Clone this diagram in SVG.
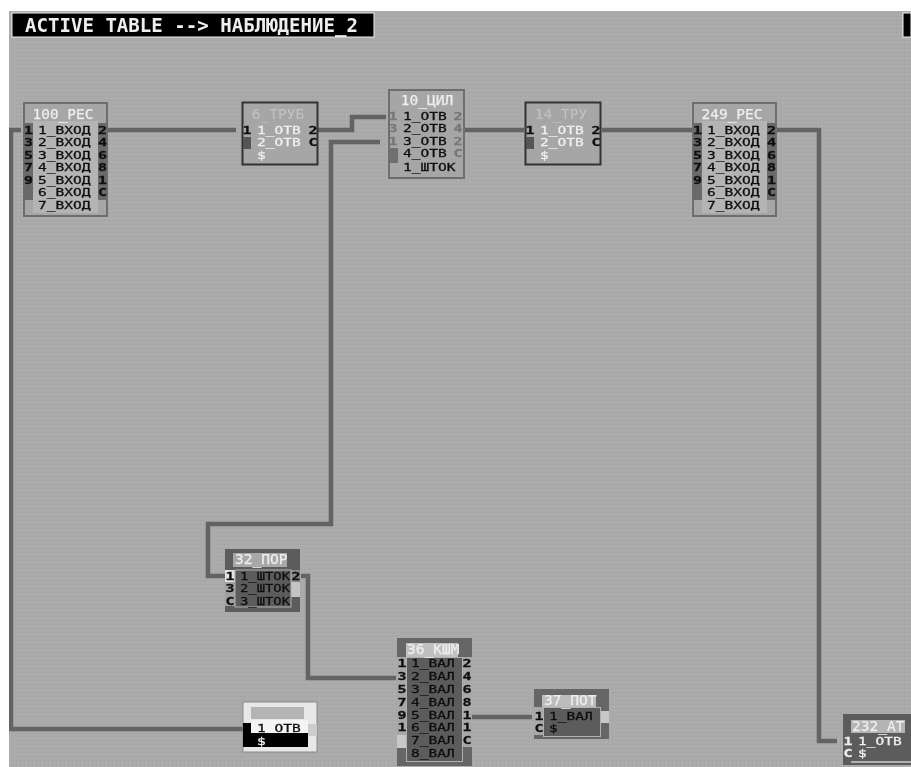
<svg xmlns="http://www.w3.org/2000/svg" width="911" height="767" viewBox="0 0 911 767">
<style>
text{font-family:"DejaVu Sans Mono","Liberation Mono",monospace;font-size:14.5px}
.t,.tw{font-size:10.7px;stroke-width:.3}
.t{fill:#111;stroke:#111}.tw{fill:#eee;stroke:#eee}
.w{fill:#eee;stroke:#eee;stroke-width:.25}.f{fill:#c2c2c2}
.p,.g,.pw{font-weight:bold;font-size:10.7px;text-anchor:middle;stroke-width:.3}
.p{fill:#111;stroke:#111}.g{fill:#777;stroke:#777}.pw{fill:#eee;stroke:#eee}
.c{fill:none;stroke:#636363;stroke-width:4.500}
.n{fill:#a6a6a6;stroke:#6e6e6e;stroke-width:2}
.m{text-anchor:middle}
</style>
<defs>
<pattern id="bg" width="4" height="4" patternUnits="userSpaceOnUse"><rect width="4" height="4" fill="#aaa"/><rect x="0" y="0" width="1" height="1" fill="#a2a2a2"/><rect x="2" y="2" width="1" height="1" fill="#b2b2b2"/></pattern>
<filter id="b" x="0" y="0" width="100%" height="100%"><feGaussianBlur stdDeviation="0.65"/></filter>
</defs>
<rect width="911" height="767" fill="#fff"/>
<g filter="url(#b)">
<rect x="9" y="11" width="902" height="756" fill="url(#bg)"/>
<g id="title">
<rect x="12" y="13" width="362" height="24" fill="#000" stroke="#eee"/>
<text x="25" y="32" style="font-size:19px;font-weight:bold" fill="#eee" textLength="333" lengthAdjust="spacingAndGlyphs">ACTIVE TABLE --&gt; НАБЛЮДЕНИЕ_2</text>
<rect x="903" y="13" width="8" height="24" fill="#000" stroke="#eee"/>
</g>
<g id="connectors">
<path class="c" d="M21 130H11V729H243"/>
<path class="c" d="M107 130H236"/>
<path class="c" d="M318 130H352V117H386"/>
<path class="c" d="M380 142H331V524H208V576H226"/>
<path class="c" d="M301 576H308V678H396"/>
<path class="c" d="M465 130H524"/>
<path class="c" d="M602 130H692"/>
<path class="c" d="M776 130H819V741H837"/>
<path class="c" d="M472 717H532"/>
</g>
<g id="n100">
<rect class="n" x="24" y="103" width="83" height="113"/>
<rect x="33" y="121" width="65" height="92" fill="#b4b4b4"/>
<rect x="24" y="123" width="9" height="77" fill="#6a6a6a"/><rect x="98" y="123" width="9" height="77" fill="#6a6a6a"/>
<text class="w m" x="63" y="119">100_РЕС</text>
<text class="t" transform="translate(38 0) scale(1.36 1)"><tspan x="0" y="133.600">1_ВХОД</tspan><tspan x="0" y="146.100">2_ВХОД</tspan><tspan x="0" y="158.600">3_ВХОД</tspan><tspan x="0" y="171.100">4_ВХОД</tspan><tspan x="0" y="183.600">5_ВХОД</tspan><tspan x="0" y="196.100">6_ВХОД</tspan><tspan x="0" y="208.600">7_ВХОД</tspan></text>
<text class="p" transform="translate(28.500 0) scale(1.4 1)"><tspan x="0" y="133.600">1</tspan><tspan x="0" y="146.100">3</tspan><tspan x="0" y="158.600">5</tspan><tspan x="0" y="171.100">7</tspan><tspan x="0" y="183.600">9</tspan></text>
<text class="p" transform="translate(102.500 0) scale(1.4 1)"><tspan x="0" y="133.600">2</tspan><tspan x="0" y="146.100">4</tspan><tspan x="0" y="158.600">6</tspan><tspan x="0" y="171.100">8</tspan><tspan x="0" y="183.600">1</tspan><tspan x="0" y="196.100">C</tspan></text>
</g>
<g id="n6">
<rect x="242.500" y="102.500" width="75" height="62" fill="#a6a6a6" stroke="#333" stroke-width="2"/>
<rect x="243" y="137" width="8" height="12" fill="#555"/>
<text class="f m" x="278" y="119">6_ТРУБ</text>
<text class="tw" transform="translate(257 0) scale(1.36 1)"><tspan x="0" y="133.600">1_ОТВ</tspan><tspan x="0" y="146.100">2_ОТВ</tspan><tspan x="0" y="158.600">$</tspan></text>
<text class="p" transform="translate(247 0) scale(1.4 1)" y="133.600">1</text>
<text class="p" transform="translate(313 0) scale(1.4 1)"><tspan x="0" y="133.600">2</tspan><tspan x="0" y="146.100">C</tspan></text>
</g>
<g id="n10">
<rect class="n" x="389" y="90" width="75" height="88"/>
<rect x="389" y="148" width="9" height="15" fill="#707070"/>
<text class="w m" x="427" y="105">10_ЦИЛ</text>
<text class="t" transform="translate(403 0) scale(1.36 1)"><tspan x="0" y="119.600">1_ОТВ</tspan><tspan x="0" y="132.100">2_ОТВ</tspan><tspan x="0" y="144.600">3_ОТВ</tspan><tspan x="0" y="157.100">4_ОТВ</tspan><tspan x="0" y="170.600">1_ШТОК</tspan></text>
<text class="g" transform="translate(393 0) scale(1.4 1)"><tspan x="0" y="119.600">1</tspan><tspan x="0" y="132.100">3</tspan><tspan x="0" y="144.600">1</tspan></text>
<text class="g" transform="translate(458 0) scale(1.4 1)"><tspan x="0" y="119.600">2</tspan><tspan x="0" y="132.100">4</tspan><tspan x="0" y="144.600">2</tspan><tspan x="0" y="157.100">C</tspan></text>
</g>
<g id="n14">
<rect x="525.500" y="102.500" width="75" height="62" fill="#a6a6a6" stroke="#333" stroke-width="2"/>
<rect x="526" y="137" width="8" height="12" fill="#555"/>
<text class="f m" x="561" y="119">14_ТРУ</text>
<text class="tw" transform="translate(540 0) scale(1.36 1)"><tspan x="0" y="133.600">1_ОТВ</tspan><tspan x="0" y="146.100">2_ОТВ</tspan><tspan x="0" y="158.600">$</tspan></text>
<text class="p" transform="translate(530 0) scale(1.4 1)" y="133.600">1</text>
<text class="p" transform="translate(596 0) scale(1.4 1)"><tspan x="0" y="133.600">2</tspan><tspan x="0" y="146.100">C</tspan></text>
</g>
<g id="n249">
<rect class="n" x="693" y="103" width="83" height="113"/>
<rect x="702" y="121" width="65" height="92" fill="#b4b4b4"/>
<rect x="693" y="123" width="9" height="77" fill="#6a6a6a"/><rect x="767" y="123" width="9" height="77" fill="#6a6a6a"/>
<text class="w m" x="732" y="119">249_РЕС</text>
<text class="t" transform="translate(707 0) scale(1.36 1)"><tspan x="0" y="133.600">1_ВХОД</tspan><tspan x="0" y="146.100">2_ВХОД</tspan><tspan x="0" y="158.600">3_ВХОД</tspan><tspan x="0" y="171.100">4_ВХОД</tspan><tspan x="0" y="183.600">5_ВХОД</tspan><tspan x="0" y="196.100">6_ВХОД</tspan><tspan x="0" y="208.600">7_ВХОД</tspan></text>
<text class="p" transform="translate(697.500 0) scale(1.4 1)"><tspan x="0" y="133.600">1</tspan><tspan x="0" y="146.100">3</tspan><tspan x="0" y="158.600">5</tspan><tspan x="0" y="171.100">7</tspan><tspan x="0" y="183.600">9</tspan></text>
<text class="p" transform="translate(771.500 0) scale(1.4 1)"><tspan x="0" y="133.600">2</tspan><tspan x="0" y="146.100">4</tspan><tspan x="0" y="158.600">6</tspan><tspan x="0" y="171.100">8</tspan><tspan x="0" y="183.600">1</tspan><tspan x="0" y="196.100">C</tspan></text>
</g>
<g id="n32">
<rect x="225" y="549" width="75" height="63" fill="#5c5c5c"/>
<rect x="233" y="553" width="54" height="14" fill="#a8a8a8"/>
<rect x="225" y="570" width="10" height="36" fill="#a0a0a0"/>
<rect x="225" y="570" width="10" height="12" fill="#e4e4e4"/>
<rect x="291" y="570" width="9" height="12" fill="#888"/><rect x="291" y="582" width="9" height="15" fill="#c4c4c4"/>
<rect x="235" y="570" width="56" height="37" fill="#5c5c5c" stroke="#b0b0b0"/>
<text class="w" x="235" y="564">32_ПОР</text>
<text class="t" transform="translate(240 0) scale(1.295 1)"><tspan x="0" y="580">1_ШТОК</tspan><tspan x="0" y="592.500">2_ШТОК</tspan><tspan x="0" y="605">3_ШТОК</tspan></text>
<text class="p" transform="translate(230 0) scale(1.4 1)"><tspan x="0" y="580">1</tspan><tspan x="0" y="592.500">3</tspan><tspan x="0" y="605">C</tspan></text>
<text class="p" transform="translate(296 0) scale(1.4 1)" y="580">2</text>
</g>
<g id="n36">
<rect x="397" y="638" width="75" height="128" fill="#666"/>
<rect x="406" y="643" width="52" height="14" fill="#c0c0c0"/>
<rect x="397" y="657" width="9" height="90" fill="#a8a8a8"/><rect x="462" y="657" width="10" height="90" fill="#a8a8a8"/>
<rect x="397" y="735" width="9" height="13" fill="#c8c8c8"/>
<rect x="406.500" y="657.500" width="56" height="104" fill="#5c5c5c" stroke="#b0b0b0"/>
<text class="w" x="407" y="653.500">36_КШМ</text>
<text class="t" transform="translate(411 0) scale(1.36 1)"><tspan x="0" y="667.500">1_ВАЛ</tspan><tspan x="0" y="680.300">2_ВАЛ</tspan><tspan x="0" y="693.100">3_ВАЛ</tspan><tspan x="0" y="705.900">4_ВАЛ</tspan><tspan x="0" y="718.700">5_ВАЛ</tspan><tspan x="0" y="731.500">6_ВАЛ</tspan><tspan x="0" y="744.300">7_ВАЛ</tspan><tspan x="0" y="757.100">8_ВАЛ</tspan></text>
<text class="p" transform="translate(402 0) scale(1.4 1)"><tspan x="0" y="667.500">1</tspan><tspan x="0" y="680.300">3</tspan><tspan x="0" y="693.100">5</tspan><tspan x="0" y="705.900">7</tspan><tspan x="0" y="718.700">9</tspan><tspan x="0" y="731.500">1</tspan></text>
<text class="p" transform="translate(467 0) scale(1.4 1)"><tspan x="0" y="667.500">2</tspan><tspan x="0" y="680.300">4</tspan><tspan x="0" y="693.100">6</tspan><tspan x="0" y="705.900">8</tspan><tspan x="0" y="718.700">1</tspan><tspan x="0" y="731.500">1</tspan><tspan x="0" y="744.300">C</tspan></text>
</g>
<g id="n37">
<rect x="534" y="689" width="75" height="50" fill="#666"/>
<rect x="542" y="695" width="54" height="12" fill="#bcbcbc"/>
<rect x="534" y="707" width="9" height="28" fill="#a8a8a8"/>
<rect x="600" y="711" width="9" height="12" fill="#c8c8c8"/>
<rect x="543.500" y="707.500" width="57" height="29" fill="#5c5c5c" stroke="#b0b0b0"/>
<text class="w" x="544" y="704.500">37_ПОТ</text>
<text class="t" transform="translate(549 0) scale(1.36 1)"><tspan x="0" y="720">1_ВАЛ</tspan><tspan x="0" y="732.500">$</tspan></text>
<text class="p" transform="translate(539 0) scale(1.4 1)"><tspan x="0" y="720">1</tspan><tspan x="0" y="732.500">C</tspan></text>
</g>
<g id="n142">
<rect x="243" y="702" width="74" height="50" fill="#e8e8e8" stroke="#888"/>
<rect x="251" y="707" width="53" height="12" fill="#b4b4b4"/>
<rect x="251" y="720" width="57" height="13" fill="#f4f4f4"/>
<rect x="243" y="723" width="8" height="24" fill="#000"/>
<rect x="251" y="733" width="57" height="14" fill="#000"/>
<rect x="308" y="724" width="9" height="12" fill="#ccc"/>
<text class="t" transform="translate(257 0) scale(1.36 1)" y="732">1_ОТВ</text>
<text class="tw" transform="translate(257 0) scale(1.36 1)" y="745">$</text>
</g>
<g id="n232">
<rect x="843" y="714" width="68" height="51" fill="#5c5c5c"/>
<rect x="851" y="720" width="54" height="13" fill="#b4b4b4"/>
<rect x="851" y="761" width="60" height="2" fill="#b0b0b0"/>
<text class="w" x="852" y="730.500">232_АТ</text>
<text class="tw" transform="translate(858 0) scale(1.36 1)"><tspan x="0" y="745">1_ОТВ</tspan><tspan x="0" y="757.500">$</tspan></text>
<text class="pw" transform="translate(848 0) scale(1.4 1)"><tspan x="0" y="745">1</tspan><tspan x="0" y="757.500">C</tspan></text>
</g>
</g>
</svg>
